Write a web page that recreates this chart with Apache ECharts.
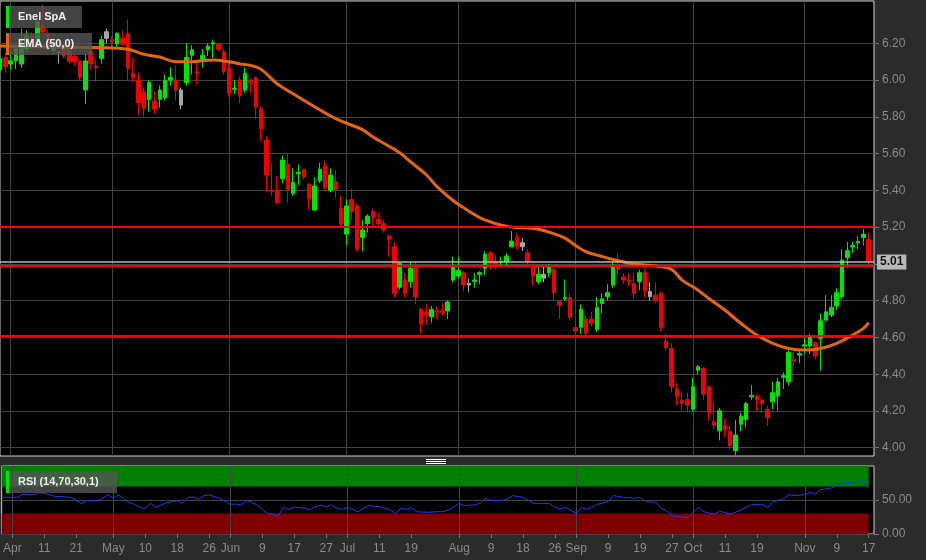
<!DOCTYPE html>
<html>
<head>
<meta charset="utf-8">
<script src="https://cdn.jsdelivr.net/npm/echarts@6/dist/echarts.min.js"></script>
<style>
  html, body { margin: 0; padding: 0; background: #2b2b2b; }
  #chart { width: 926px; height: 560px; }
</style>
</head>
<body>
<div id="chart"></div>
<script>
// ---------- DATA ----------
const tradingDays = {
  Mar: [30, 31],
  Apr: [1, 4, 5, 6, 7, 8, 11, 12, 13, 14, 19, 20, 21, 22, 25, 26, 27, 28, 29],
  May: [2, 3, 4, 5, 6, 9, 10, 11, 12, 13, 16, 17, 18, 19, 20, 23, 24, 25, 26, 27, 30, 31],
  Jun: [1, 2, 3, 6, 7, 8, 9, 10, 13, 14, 15, 16, 17, 20, 21, 22, 23, 24, 27, 28, 29, 30],
  Jul: [1, 4, 5, 6, 7, 8, 11, 12, 13, 14, 15, 18, 19, 20, 21, 22, 25, 26, 27, 28, 29],
  Aug: [1, 2, 3, 4, 5, 8, 9, 10, 11, 12, 16, 17, 18, 19, 22, 23, 24, 25, 26, 29, 30, 31],
  Sep: [1, 2, 5, 6, 7, 8, 9, 12, 13, 14, 15, 16, 19, 20, 21, 22, 23, 26, 27, 28, 29, 30],
  Oct: [3, 4, 5, 6, 7, 10, 11, 12, 13, 14, 17, 18, 19, 20, 21, 24, 25, 26, 27, 28, 31],
  Nov: [1, 2, 3, 4, 7, 8, 9, 10, 11, 14, 15, 16, 17]
};

const tickLabels = [
  ['Apr 1', 'Apr'], ['Apr 11', '11'], ['Apr 21', '21'], ['May 2', 'May'], ['May 10', '10'],
  ['May 18', '18'], ['May 26', '26'], ['Jun 1', 'Jun'], ['Jun 9', '9'], ['Jun 17', '17'],
  ['Jun 27', '27'], ['Jul 1', 'Jul'], ['Jul 11', '11'], ['Jul 19', '19'], ['Aug 1', 'Aug'],
  ['Aug 9', '9'], ['Aug 18', '18'], ['Aug 26', '26'], ['Sep 1', 'Sep'], ['Sep 9', '9'],
  ['Sep 19', '19'], ['Sep 27', '27'], ['Oct 3', 'Oct'], ['Oct 11', '11'], ['Oct 19', '19'],
  ['Nov 1', 'Nov'], ['Nov 9', '9'], ['Nov 17', '17']
];
const monthStarts = ['Apr 1', 'May 2', 'Jun 1', 'Jul 1', 'Aug 1', 'Sep 1', 'Oct 3', 'Nov 1'];

const priceTicks = [4.0, 4.2, 4.4, 4.6, 4.8, 5.0, 5.2, 5.4, 5.6, 5.8, 6.0, 6.2];
const rsiTicks = [0, 50];

const open = [
  6.055, 6.124, 6.087, 6.105, 6.087, 6.17, 6.24, 6.20, 6.29, 6.255,
  6.16, 6.15, 6.20, 6.17, 6.13, 6.104, 5.946, 6.154, 6.076, 6.118,
  6.263, 6.22, 6.196, 6.227, 6.254, 6.037, 6.00, 5.937, 5.895, 5.886,
  5.895, 5.904, 6.00, 6.00, 5.946, 5.986, 6.135, 6.046, 6.105, 6.164,
  6.196, 6.196, 6.154, 6.064, 5.950, 6.00, 5.946, 5.995, 6.013, 5.843,
  5.674, 5.40, 5.40, 5.465, 5.543, 5.384, 5.49, 5.515, 5.434, 5.293,
  5.452, 5.532, 5.40, 5.447, 5.302, 5.162, 5.351, 5.315, 5.145, 5.22,
  5.284, 5.242, 5.22, 5.152, 5.093, 4.873, 4.912, 4.903, 4.985, 4.753,
  4.735, 4.713, 4.745, 4.744, 4.744, 4.912, 4.934, 4.952, 4.894, 4.905,
  4.943, 4.976, 5.06, 5.012, 5.007, 5.012, 5.093, 5.142, 5.115, 5.06,
  4.988, 4.903, 4.943, 4.952, 4.97, 4.794, 4.81, 4.817, 4.653, 4.655,
  4.70, 4.70, 4.644, 4.785, 4.822, 4.885, 4.994, 4.93, 4.912, 4.894,
  4.903, 4.952, 4.85, 4.83, 4.84, 4.58, 4.54, 4.318, 4.26, 4.263,
  4.21, 4.422, 4.432, 4.332, 4.141, 4.092, 4.123, 4.09, 3.984, 4.128,
  4.154, 4.277, 4.28, 4.26, 4.209, 4.25, 4.281, 4.383, 4.359, 4.481,
  4.504, 4.553, 4.553, 4.571, 4.595, 4.694, 4.722, 4.771, 4.822, 5.034,
  5.093, 5.115, 5.144, 5.134
];
const high = [
  6.13, 6.15, 6.15, 6.19, 6.28, 6.27, 6.26, 6.33, 6.41, 6.27,
  6.21, 6.16, 6.21, 6.19, 6.15, 6.11, 6.14, 6.17, 6.11, 6.24,
  6.28, 6.24, 6.26, 6.27, 6.33, 6.12, 6.04, 5.96, 6.00, 5.937,
  5.97, 6.03, 6.07, 6.08, 5.96, 6.20, 6.19, 6.10, 6.17, 6.20,
  6.22, 6.20, 6.17, 6.10, 6.00, 6.02, 6.07, 6.01, 6.02, 5.86,
  5.695, 5.55, 5.48, 5.59, 5.60, 5.52, 5.54, 5.515, 5.44, 5.47,
  5.55, 5.56, 5.52, 5.51, 5.37, 5.35, 5.41, 5.33, 5.24, 5.27,
  5.30, 5.28, 5.24, 5.16, 5.12, 5.01, 4.95, 5.01, 5.01, 4.76,
  4.78, 4.77, 4.77, 4.785, 4.80, 5.04, 5.04, 4.96, 4.92, 4.95,
  4.96, 5.07, 5.07, 5.05, 5.04, 5.06, 5.18, 5.17, 5.14, 5.08,
  5.00, 4.99, 4.99, 5.00, 4.98, 4.80, 4.915, 4.84, 4.69, 4.78,
  4.72, 4.74, 4.82, 4.84, 4.89, 5.01, 5.06, 4.95, 4.95, 4.95,
  4.97, 4.975, 4.90, 4.90, 4.85, 4.62, 4.57, 4.355, 4.30, 4.30,
  4.38, 4.45, 4.44, 4.34, 4.25, 4.215, 4.16, 4.12, 4.15, 4.19,
  4.25, 4.34, 4.29, 4.27, 4.23, 4.36, 4.38, 4.41, 4.53, 4.52,
  4.53, 4.60, 4.62, 4.58, 4.73, 4.83, 4.83, 4.87, 5.08, 5.12,
  5.12, 5.15, 5.19, 5.17
];
const low = [
  6.04, 6.04, 6.06, 6.06, 6.066, 6.15, 6.18, 6.19, 6.25, 6.16,
  6.14, 6.09, 6.12, 6.09, 6.08, 6.00, 5.87, 6.06, 5.99, 6.09,
  6.20, 6.17, 6.17, 6.19, 6.00, 5.99, 5.81, 5.80, 5.828, 5.82,
  5.85, 5.89, 5.97, 5.89, 5.84, 5.97, 6.03, 5.975, 6.07, 6.13,
  6.12, 6.16, 6.03, 5.91, 5.925, 5.875, 5.93, 5.93, 5.79, 5.67,
  5.39, 5.37, 5.33, 5.44, 5.33, 5.37, 5.43, 5.46, 5.30, 5.29,
  5.44, 5.40, 5.39, 5.36, 5.20, 5.10, 5.24, 5.07, 5.07, 5.17,
  5.20, 5.20, 5.17, 5.04, 4.82, 4.86, 4.82, 4.87, 4.78, 4.62,
  4.67, 4.68, 4.70, 4.72, 4.70, 4.90, 4.92, 4.85, 4.845, 4.87,
  4.89, 4.94, 4.97, 4.97, 4.99, 4.99, 5.09, 5.08, 5.07, 4.99,
  4.885, 4.89, 4.90, 4.93, 4.80, 4.70, 4.80, 4.69, 4.60, 4.62,
  4.60, 4.66, 4.63, 4.73, 4.80, 4.87, 4.94, 4.89, 4.88, 4.81,
  4.86, 4.82, 4.80, 4.79, 4.63, 4.53, 4.30, 4.23, 4.20, 4.19,
  4.20, 4.40, 4.26, 4.15, 4.10, 4.04, 4.06, 3.99, 3.96, 4.09,
  4.11, 4.26, 4.20, 4.19, 4.12, 4.21, 4.20, 4.32, 4.34, 4.44,
  4.46, 4.51, 4.51, 4.48, 4.42, 4.69, 4.71, 4.75, 4.81, 4.98,
  5.06, 5.08, 5.10, 4.99
];
const close = [
  6.118, 6.073, 6.105, 6.17, 6.17, 6.24, 6.20, 6.317, 6.263, 6.18,
  6.20, 6.15, 6.13, 6.10, 6.10, 6.015, 6.104, 6.09, 6.067, 6.22,
  6.227, 6.21, 6.254, 6.195, 6.064, 6.015, 5.877, 5.846, 5.986, 5.843,
  5.946, 5.997, 6.015, 5.946, 5.864, 6.124, 6.164, 6.037, 6.135, 6.185,
  6.203, 6.167, 6.046, 5.928, 5.956, 5.915, 6.037, 5.986, 5.855, 5.734,
  5.483, 5.393, 5.333, 5.565, 5.405, 5.443, 5.497, 5.474, 5.355, 5.424,
  5.515, 5.416, 5.483, 5.405, 5.22, 5.315, 5.284, 5.083, 5.184, 5.26,
  5.253, 5.22, 5.184, 5.134, 4.84, 5.003, 4.84, 4.976, 4.82, 4.673,
  4.725, 4.753, 4.738, 4.735, 4.793, 4.985, 4.963, 4.885, 4.885, 4.912,
  4.952, 5.053, 5.003, 4.994, 5.012, 5.043, 5.124, 5.093, 5.093, 5.012,
  4.934, 4.943, 4.922, 4.985, 4.843, 4.775, 4.817, 4.709, 4.635, 4.753,
  4.622, 4.677, 4.762, 4.81, 4.843, 4.985, 4.97, 4.912, 4.903, 4.84,
  4.952, 4.854, 4.822, 4.80, 4.655, 4.544, 4.332, 4.28, 4.24, 4.232,
  4.332, 4.44, 4.292, 4.19, 4.123, 4.201, 4.10, 4.01, 4.069, 4.172,
  4.241, 4.285, 4.26, 4.24, 4.163, 4.299, 4.359, 4.392, 4.52, 4.472,
  4.513, 4.56, 4.607, 4.499, 4.691, 4.74, 4.764, 4.843, 5.021, 5.072,
  5.10, 5.122, 5.162, 5.01
];
const greyDays = ['Apr 14', 'Apr 29', 'May 19', 'Aug 3', 'Aug 18', 'Aug 24', 'Sep 21'];

// EMA(50): [date, value]
const ema = [
  ['Mar 30', 6.185], ['Apr 13', 6.18], ['Apr 28', 6.176], ['May 5', 6.167], ['May 10', 6.14],
  ['May 13', 6.125], ['May 18', 6.10], ['May 23', 6.10], ['May 27', 6.109], ['Jun 1', 6.10],
  ['Jun 3', 6.088], ['Jun 7', 6.08], ['Jun 9', 6.058], ['Jun 14', 5.98], ['Jun 17', 5.925],
  ['Jun 21', 5.89], ['Jun 29', 5.79], ['Jul 6', 5.73], ['Jul 8', 5.69], ['Jul 12', 5.656],
  ['Jul 15', 5.605], ['Jul 19', 5.556], ['Jul 22', 5.485], ['Jul 26', 5.42], ['Jul 29', 5.345],
  ['Aug 2', 5.305], ['Aug 8', 5.239], ['Aug 16', 5.20], ['Aug 22', 5.194], ['Aug 25', 5.173],
  ['Aug 30', 5.14], ['Sep 1', 5.10], ['Sep 5', 5.066], ['Sep 8', 5.04], ['Sep 13', 5.017],
  ['Sep 16', 4.999], ['Sep 22', 4.988], ['Sep 27', 4.97], ['Sep 29', 4.912], ['Oct 4', 4.857],
  ['Oct 6', 4.812], ['Oct 11', 4.749], ['Oct 14', 4.677], ['Oct 19', 4.613], ['Oct 24', 4.568],
  ['Oct 27', 4.54], ['Nov 1', 4.531], ['Nov 4', 4.54], ['Nov 9', 4.568], ['Nov 14', 4.613],
  ['Nov 16', 4.649], ['Nov 17', 4.68]
];

// RSI(14): [trading-day offset from Mar 30, value]
const rsi = [
  [0, 54], [2, 54], [3, 54], [4, 58.3], [6, 57.4], [7, 60.8], [8, 59.8], [10, 55.4], [13, 54],
  [15, 45], [16, 49], [18, 48.5], [20, 57.4], [21, 53.4], [22, 57.4], [24, 46], [25, 43.6],
  [26, 38.7], [27, 37.7], [28, 45], [29, 39.2], [31, 46], [33, 49], [34, 45], [35, 54],
  [36, 54.4], [37, 51], [38, 56.4], [39, 57.4], [41, 52.5], [43, 43.6], [44, 44.1], [45, 42.6],
  [46, 49], [47, 47], [48, 42.6], [49, 36], [50, 30], [51, 28.9], [52, 26.9], [53, 39.2],
  [54, 36.3], [55, 39.2], [57, 38], [58, 35.3], [59, 40], [60, 42.6], [61, 40.2], [62, 42.6],
  [63, 38], [64, 36.3], [65, 39.2], [67, 32.8], [69, 41.7], [71, 40.2], [72, 37.7], [73, 36],
  [74, 29.4], [75, 37.7], [76, 36.3], [77, 38.7], [78, 32.8], [80, 31.9], [82, 32.8], [83, 32.8],
  [84, 35], [85, 40.2], [86, 45], [87, 41.7], [89, 43], [90, 45], [91, 52.5], [92, 49],
  [94, 49.5], [95, 51], [96, 56.4], [98, 54], [100, 45], [103, 45], [104, 39.2], [105, 36.8],
  [106, 39.2], [108, 30.4], [109, 39.2], [110, 36.3], [112, 43.6], [114, 47.5], [115, 56.4],
  [117, 54], [119, 52.5], [120, 54], [121, 47.5], [123, 46.6], [124, 37.7], [125, 34.3],
  [126, 26.5], [127, 25.5], [129, 24], [130, 31.9], [131, 39.2], [132, 32.8], [134, 28.9],
  [135, 33.8], [137, 28.9], [139, 35.3], [141, 43.6], [143, 43.6], [144, 39.2], [145, 47.5],
  [147, 52], [148, 57.9], [149, 56.4], [151, 57.9], [152, 61.3], [153, 58.8], [154, 65.2],
  [156, 67.6], [158, 75], [160, 76.5], [162, 78.4], [163, 67.6]
];
const rsiUpper = 70;
const rsiLower = 30;

const levels = [5.20, 4.99, 4.61];
const lastPrice = 5.01;

// ---------- BUILD ----------
const categories = [];
Object.keys(tradingDays).forEach(m => tradingDays[m].forEach(d => categories.push(m + ' ' + d)));
const lastIdx = categories.length - 1;
categories.push('pad');

const labelMap = {};
tickLabels.forEach(([k, v]) => { labelMap[k] = v; });
const monthSet = new Set(monthStarts);

const GREEN = '#00e600', RED = '#f00000', GREY = '#a6a6a6';
const greySet = new Set(greyDays);
const candleData = open.map((o, i) => {
  const item = { value: [o, close[i], low[i], high[i]] };
  if (greySet.has(categories[i])) {
    item.itemStyle = { color: GREY, color0: GREY, borderColor: GREY, borderColor0: GREY };
  }
  return item;
});

const FONT = 'Liberation Sans, Arial, sans-serif';
const labelFont = { color: '#8a8a8a', fontSize: 12, fontFamily: FONT };
const gridLine = { show: true, lineStyle: { color: '#444', width: 1 } };
const legendFont = 'bold 11px ' + FONT;

const chart = echarts.init(document.getElementById('chart'), null, { renderer: 'canvas' });
const option = {
  backgroundColor: '#2b2b2b',
  animation: false,
  grid: [
    { left: 0, right: 52, top: 1, height: 455, show: true, backgroundColor: '#000', borderColor: '#d0d0d0', borderWidth: 1 },
    { left: 0, right: 52, top: 466, height: 68, show: true, backgroundColor: '#000', borderColor: '#d0d0d0', borderWidth: 1 }
  ],
  xAxis: [
    {
      type: 'category', gridIndex: 0, data: categories, boundaryGap: false,
      axisLine: { show: false }, axisTick: { show: false }, axisLabel: { show: false },
      splitLine: { show: true, interval: (i, v) => monthSet.has(v), lineStyle: { color: '#444' } }
    },
    {
      type: 'category', gridIndex: 1, data: categories, boundaryGap: false, z: 3,
      axisLine: { show: false },
      axisTick: { show: true, interval: (i, v) => labelMap[v] !== undefined, length: 4, lineStyle: { color: '#777' } },
      axisLabel: Object.assign({ show: true, interval: (i, v) => labelMap[v] !== undefined, formatter: v => labelMap[v] || '', margin: 9 }, labelFont),
      splitLine: { show: true, interval: (i, v) => monthSet.has(v), lineStyle: { color: '#444' } }
    }
  ],
  yAxis: [
    {
      type: 'value', gridIndex: 0, position: 'right', min: 3.955, max: 6.43,
      axisLine: { show: false },
      axisTick: { show: true, customValues: priceTicks, length: 5, lineStyle: { color: '#777' } },
      axisLabel: Object.assign({ customValues: priceTicks, formatter: v => v.toFixed(2), margin: 8 }, labelFont),
      splitLine: gridLine
    },
    {
      type: 'value', gridIndex: 1, position: 'right', min: 0, max: 100, z: 3,
      axisLine: { show: false },
      axisTick: { show: true, customValues: rsiTicks, length: 5, lineStyle: { color: '#777' } },
      axisLabel: Object.assign({ customValues: rsiTicks, formatter: v => v.toFixed(2), margin: 8 }, labelFont),
      splitLine: gridLine
    }
  ],
  series: [
    {
      type: 'candlestick', xAxisIndex: 0, yAxisIndex: 0, data: candleData,
      barWidth: 4, clip: true, z: 3,
      itemStyle: { color: GREEN, color0: RED, borderColor: GREEN, borderColor0: RED, borderWidth: 1 },
      markLine: {
        silent: true, symbol: 'none', animation: false, z: 6,
        data: levels.map(v => ({ yAxis: v, lineStyle: { color: '#ff0000', width: 2, type: 'solid' }, label: { show: false } }))
          .concat([{ yAxis: lastPrice, lineStyle: { color: '#b8b8b8', width: 1.5, type: 'solid' },
            label: { show: true, position: 'end', formatter: lastPrice.toFixed(2), distance: 3,
              backgroundColor: '#b8b8b8', color: '#111', fontSize: 12, fontWeight: 'bold',
              fontFamily: FONT, padding: [2, 3, 1, 3] } }])
      }
    },
    {
      type: 'line', xAxisIndex: 0, yAxisIndex: 0, data: ema, smooth: 0.4, showSymbol: false, z: 4,
      lineStyle: { color: '#e8650f', width: 3 }
    },
    {
      type: 'line', xAxisIndex: 1, yAxisIndex: 1, data: rsi, showSymbol: false, z: 5,
      lineStyle: { color: '#1a3cf0', width: 1 },
      markArea: {
        silent: true, z: 1,
        data: [
          [{ xAxis: categories[0], yAxis: rsiUpper, itemStyle: { color: '#008000' } }, { xAxis: categories[lastIdx], yAxis: 100 }],
          [{ xAxis: categories[0], yAxis: 0, itemStyle: { color: '#800000' } }, { xAxis: categories[lastIdx], yAxis: rsiLower }]
        ]
      }
    }
  ],
  graphic: [
    { type: 'rect', left: 9, top: 6, shape: { width: 73, height: 22 }, style: { fill: 'rgba(85,85,85,0.8)' }, z: 20 },
    { type: 'rect', left: 6, top: 6, shape: { width: 3, height: 22 }, style: { fill: GREEN }, z: 20 },
    { type: 'text', left: 18, top: 11, style: { text: 'Enel SpA', fill: '#eeeeee', font: legendFont }, z: 21 },
    { type: 'rect', left: 9, top: 33, shape: { width: 83, height: 22 }, style: { fill: 'rgba(85,85,85,0.8)' }, z: 20 },
    { type: 'rect', left: 6, top: 33, shape: { width: 3, height: 22 }, style: { fill: '#e8650f' }, z: 20 },
    { type: 'text', left: 18, top: 38, style: { text: 'EMA (50,0)', fill: '#eeeeee', font: legendFont }, z: 21 },
    { type: 'rect', left: 9, top: 471, shape: { width: 108, height: 22 }, style: { fill: 'rgba(85,85,85,0.8)' }, z: 20 },
    { type: 'rect', left: 6, top: 471, shape: { width: 3, height: 22 }, style: { fill: GREEN }, z: 20 },
    { type: 'text', left: 18, top: 476, style: { text: 'RSI (14,70,30,1)', fill: '#eeeeee', font: legendFont }, z: 21 },
    { type: 'line', shape: { x1: 426, y1: 459.5, x2: 446, y2: 459.5 }, style: { stroke: '#ffffff', lineWidth: 1 }, z: 20 },
    { type: 'line', shape: { x1: 426, y1: 461.5, x2: 446, y2: 461.5 }, style: { stroke: '#ffffff', lineWidth: 1 }, z: 20 },
    { type: 'line', shape: { x1: 426, y1: 463.5, x2: 446, y2: 463.5 }, style: { stroke: '#ffffff', lineWidth: 1 }, z: 20 }
  ]
};
chart.setOption(option);
</script>
</body>
</html>
